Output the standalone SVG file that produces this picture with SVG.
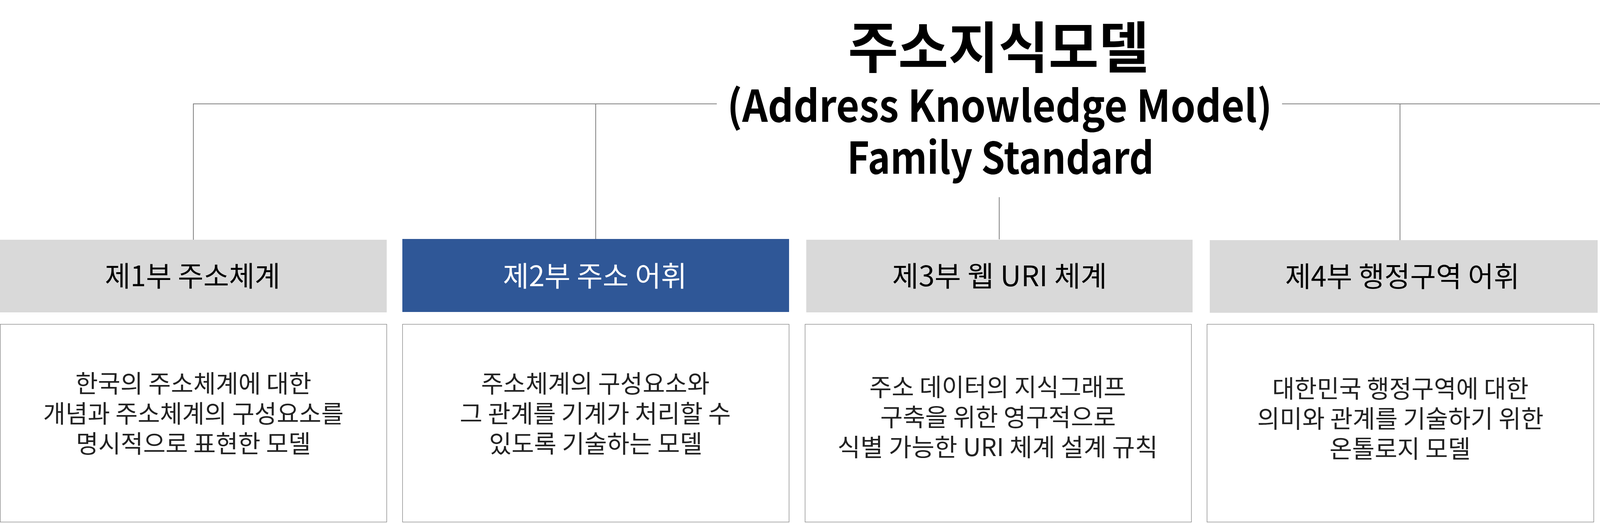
<svg xmlns="http://www.w3.org/2000/svg" width="5148" height="1342" viewBox="0 0 5148 1342">
<style>
text{font-family:"Noto Sans CJK KR","Noto Sans",sans-serif;text-anchor:middle}
.title{font-weight:700;fill:#000}
.hdr{fill:#d9d9d9}
.hdr-sel{fill:#2f5797}
.ht{font-size:72px;font-weight:400;fill:#000}
.ht-sel{font-size:72px;font-weight:400;fill:#fff}
.desc{fill:#fff;stroke:#808080;stroke-width:1.3}
.dt{font-size:63px;font-weight:400;fill:#222}
.conn{stroke:#7f7f7f;stroke-width:2;fill:none}
</style>
<rect width="5148" height="1342" fill="#fff"/>
<g id="connectors">
<path class="conn" d="M495 614V266H1835"/>
<path class="conn" d="M1525 266V612"/>
<path class="conn" d="M2558 505V613"/>
<path class="conn" d="M3282 266H4615V617"/>
<path class="conn" d="M3584 266V615"/>
</g>
<g id="root">
<text class="title" x="2556" y="174" font-size="142" textLength="770" lengthAdjust="spacingAndGlyphs">주소지식모델</text>
<text class="title" x="2559" y="312" font-size="112" textLength="1395" lengthAdjust="spacingAndGlyphs">(Address Knowledge Model)</text>
<text class="title" x="2561" y="445" font-size="112" textLength="785" lengthAdjust="spacingAndGlyphs">Family Standard</text>
</g>
<g id="part1-header">
<rect class="hdr" x="0" y="614" width="990" height="186"/>
<text class="ht" x="493" y="733" textLength="449" lengthAdjust="spacingAndGlyphs">제1부 주소체계</text>
</g>
<g id="part2-header">
<rect class="hdr-sel" x="1030" y="612" width="990" height="187"/>
<text class="ht-sel" x="1523" y="733" textLength="471" lengthAdjust="spacingAndGlyphs">제2부 주소 어휘</text>
</g>
<g id="part3-header">
<rect class="hdr" x="2064" y="614" width="989" height="186"/>
<text class="ht" x="2559" y="733" textLength="550" lengthAdjust="spacingAndGlyphs">제3부 웹 URI 체계</text>
</g>
<g id="part4-header">
<rect class="hdr" x="3097" y="615" width="993" height="186"/>
<text class="ht" x="3590" y="734" textLength="600" lengthAdjust="spacingAndGlyphs">제4부 행정구역 어휘</text>
</g>
<g id="part5-header">
<rect class="hdr" x="4131" y="617" width="989" height="183"/>
<text class="ht" x="4626" y="733" textLength="967" lengthAdjust="spacingAndGlyphs">제5부 주소 용어의 의미적 표현 모델</text>
</g>
<g id="part1-desc">
<rect class="desc" x="0.7" y="830.5" width="989.3" height="506.5"/>
<text class="dt" x="495" y="1005" textLength="604" lengthAdjust="spacingAndGlyphs">한국의 주소체계에 대한</text>
<text class="dt" x="495" y="1082" textLength="769" lengthAdjust="spacingAndGlyphs">개념과 주소체계의 구성요소를</text>
<text class="dt" x="495" y="1159" textLength="601" lengthAdjust="spacingAndGlyphs">명시적으로 표현한 모델</text>
</g>
<g id="part2-desc">
<rect class="desc" x="1030.5" y="830.5" width="989.5" height="506.5"/>
<text class="dt" x="1524" y="1005" textLength="585" lengthAdjust="spacingAndGlyphs">주소체계의 구성요소와</text>
<text class="dt" x="1524" y="1082" textLength="694" lengthAdjust="spacingAndGlyphs">그 관계를 기계가 처리할 수</text>
<text class="dt" x="1525" y="1159" textLength="546" lengthAdjust="spacingAndGlyphs">있도록 기술하는 모델</text>
</g>
<g id="part3-desc">
<rect class="desc" x="2061" y="830.5" width="989" height="506.5"/>
<text class="dt" x="2554" y="1014" textLength="657" lengthAdjust="spacingAndGlyphs">주소 데이터의 지식그래프</text>
<text class="dt" x="2555" y="1091" textLength="603" lengthAdjust="spacingAndGlyphs">구축을 위한 영구적으로</text>
<text class="dt" x="2554" y="1168" textLength="820" lengthAdjust="spacingAndGlyphs">식별 가능한 URI 체계 설계 규칙</text>
</g>
<g id="part4-desc">
<rect class="desc" x="3090" y="830.5" width="990" height="506.5"/>
<text class="dt" x="3585" y="1018" textLength="656" lengthAdjust="spacingAndGlyphs">대한민국 행정구역에 대한</text>
<text class="dt" x="3585" y="1095" textLength="733" lengthAdjust="spacingAndGlyphs">의미와 관계를 기술하기 위한</text>
<text class="dt" x="3584" y="1172" textLength="361" lengthAdjust="spacingAndGlyphs">온톨로지 모델</text>
</g>
<g id="part5-desc">
<rect class="desc" x="4131" y="834" width="990" height="507"/>
<text class="dt" x="4625" y="1014" textLength="772" lengthAdjust="spacingAndGlyphs">주소 분야의 주요 용어의 정의,</text>
<text class="dt" x="4624" y="1091" textLength="806" lengthAdjust="spacingAndGlyphs">의미적 관계를 기계 처리 가능한</text>
<text class="dt" x="4625" y="1168" textLength="733" lengthAdjust="spacingAndGlyphs">형식으로 기술하기 위한 모델</text>
</g>
</svg>
